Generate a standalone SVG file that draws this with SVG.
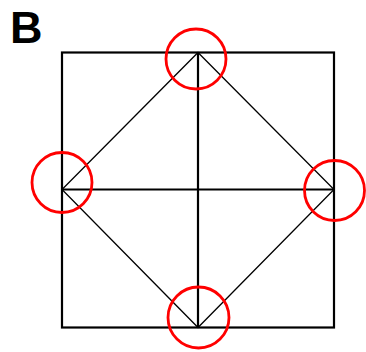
<svg xmlns="http://www.w3.org/2000/svg" width="366" height="352" viewBox="0 0 366 352">
<style>
.frame{fill:none;stroke:#000;stroke-width:2.2}
.thin{fill:none;stroke:#000;stroke-width:1.3}
.ring{fill:none;stroke:#f00;stroke-width:2.8}
.lbl{font-family:"Liberation Sans",Arial,sans-serif;font-weight:bold;font-size:45px;fill:#000}
</style>
<rect width="366" height="352" fill="#fff"/>
<text class="lbl" x="10" y="43">B</text>
<g id="connectors">
<rect class="frame" x="62" y="52.5" width="272" height="275"/>
<line class="frame" x1="198" y1="52.5" x2="198" y2="327.5"/>
<line class="frame" x1="62" y1="189.5" x2="334" y2="189.5"/>
<polygon class="thin" points="198,52.5 334,189.5 198,327.5 62,189.5"/>
</g>
<g id="top"><circle class="ring" cx="196" cy="59" r="30"/></g>
<g id="left"><circle class="ring" cx="62" cy="182.5" r="30"/></g>
<g id="right"><circle class="ring" cx="334.5" cy="190.5" r="30"/></g>
<g id="bottom"><circle class="ring" cx="198.5" cy="317.5" r="30.5"/></g>
</svg>
